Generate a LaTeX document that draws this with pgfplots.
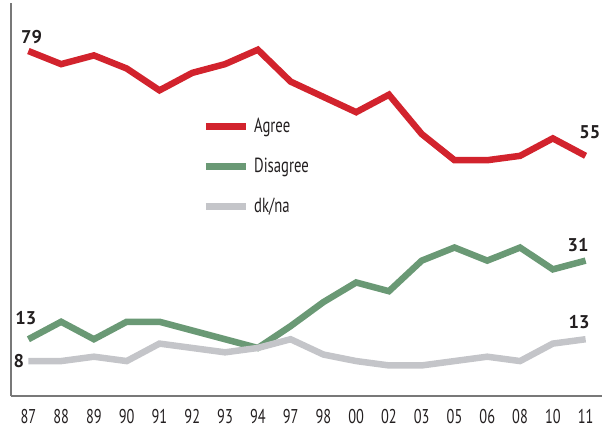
\documentclass[border=0pt]{standalone}
\usepackage{fontspec}
\setmainfont{PT Sans}
\newfontfamily\condfont{PT Sans}[FakeStretch=0.72]
\usepackage{pgfplots}
\pgfplotsset{compat=1.18}
\definecolor{agreec}{RGB}{210,35,45}
\definecolor{disc}{RGB}{106,153,117}
\definecolor{dkc}{RGB}{196,197,201}
\definecolor{axc}{RGB}{120,120,120}
\definecolor{txtc}{RGB}{35,31,32}
\begin{document}
\begin{tikzpicture}
\useasboundingbox (0,0) rectangle (607bp,429bp);
\begin{axis}[
  at={(11bp,33bp)}, anchor=south west,
  scale only axis, width=591bp, height=393bp,
  xmin=-0.53, xmax=17.5, ymin=0, ymax=90,
  axis x line*=bottom, axis y line*=left,
  axis line style={axc, line width=1.3bp, -},
  xtick={0,...,17},
  xticklabels={87,88,89,90,91,92,93,94,97,98,00,02,03,05,06,08,10,11},
  ytick=\empty,
  major tick length=0pt,
  xticklabel style={font=\condfont\fontsize{20}{20}\selectfont, text=txtc, anchor=base, yshift=-27.5bp},
  clip=false,
  legend style={at={(axis description cs:0.324,0.707)}, anchor=north west, draw=none, fill=none, inner sep=0pt,
    row sep=24bp, column sep=5bp,
    nodes={font=\condfont\fontsize{20.5}{20.5}\selectfont, text=txtc, inner sep=0pt}},
  legend cell align=left,
  legend image code/.code={\draw[#1, line width=6.5bp, line cap=butt] (0bp,0bp) -- (40bp,0bp);},
]
\addplot[agreec, line width=6.5bp] coordinates {
(0,79) (1,76) (2,78) (3,75) (4,70) (5,74) (6,76) (7,79.3) (8,72) (9,68.5) (10,65) (11,69) (12,60) (13,54) (14,54) (15,55) (16,59) (17,55)};
\addlegendentry{Agree}
\addplot[disc, line width=6.5bp] coordinates {
(0,13) (1,17) (2,13) (3,17) (4,17) (5,15) (6,13) (7,11) (8,16) (9,21.5) (10,26) (11,24) (12,31) (13,34) (14,31) (15,34) (16,29) (17,31)};
\addlegendentry{Disagree}
\addplot[dkc, line width=6.5bp] coordinates {
(0,8) (1,8) (2,9) (3,8) (4,12) (5,11) (6,10) (7,11) (8,13) (9,9.5) (10,8) (11,7) (12,7) (13,8) (14,9) (15,8) (16,12) (17,13)};
\addlegendentry{dk/na}
\node[font=\bfseries\fontsize{18.5}{18.5}\selectfont, text=txtc] at (axis cs:0.1,82.2) {79};
\node[font=\bfseries\fontsize{18.5}{18.5}\selectfont, text=txtc] at (axis cs:17.13,60.4) {55};
\node[font=\bfseries\fontsize{18.5}{18.5}\selectfont, text=txtc] at (axis cs:16.77,34.6) {31};
\node[font=\bfseries\fontsize{18.5}{18.5}\selectfont, text=txtc] at (axis cs:16.8,16.9) {13};
\node[font=\bfseries\fontsize{18.5}{18.5}\selectfont, text=txtc] at (axis cs:-0.08,17.9) {13};
\node[font=\bfseries\fontsize{18.5}{18.5}\selectfont, text=txtc] at (axis cs:-0.29,8.0) {8};
\end{axis}
\end{tikzpicture}
\end{document}
